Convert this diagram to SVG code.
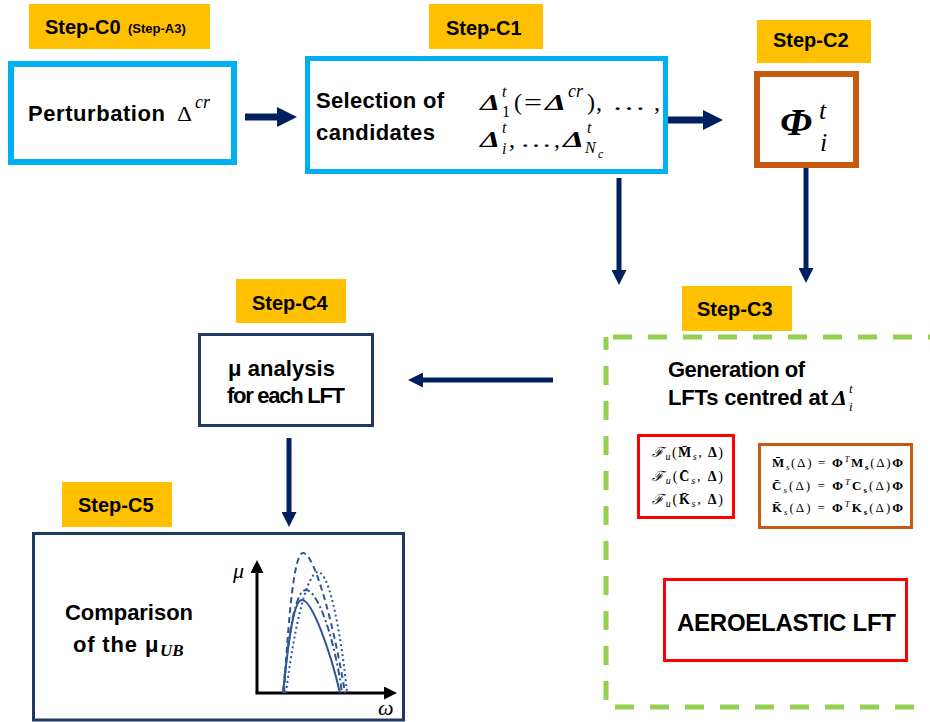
<svg xmlns="http://www.w3.org/2000/svg" width="930" height="722" viewBox="0 0 930 722">
  <style>
    .lbl rect { fill: #FFC000; }
    .lbl text, .t { font-family: "Liberation Sans", Arial, sans-serif; font-weight: bold; fill: #000; }
    .lbl text { font-size: 20px; }
    .t { font-size: 22px; }
    .m { font-family: "Liberation Serif", "Times New Roman", serif; fill: #000; }
    .bi { font-weight: bold; font-style: italic; }
    .it { font-style: italic; }
    .bd { font-weight: bold; }
    .blue { fill: #fff; stroke: #00B0F0; }
    .brown { fill: #fff; stroke: #C55A11; }
    .navy { fill: #fff; stroke: #203864; stroke-width: 3; }
    .red { fill: #fff; stroke: #FF0000; stroke-width: 3; }
    .conn line { stroke: #002060; }
    .curve { fill: none; stroke: #2F5597; stroke-width: 2; }
  </style>
  <defs>
    <marker id="headBig" markerUnits="userSpaceOnUse" markerWidth="20" markerHeight="20" refX="0" refY="10" orient="auto">
      <path d="M0,0 L20,10 L0,20 Z" fill="#002060"/>
    </marker>
    <marker id="headSmall" markerUnits="userSpaceOnUse" markerWidth="15" markerHeight="15" refX="0" refY="7.5" orient="auto">
      <path d="M0,0 L15,7.5 L0,15 Z" fill="#002060"/>
    </marker>
    <marker id="axisHead" markerUnits="userSpaceOnUse" markerWidth="13" markerHeight="13" refX="0" refY="6.5" orient="auto">
      <path d="M0,0 L13,6.5 L0,13 Z" fill="#000"/>
    </marker>
  </defs>

  <!-- step tags -->
  <g class="lbl" id="tag-c0">
    <rect x="29" y="4" width="181" height="45"/>
    <text x="45" y="34">Step-C0</text>
    <text x="128" y="33" style="font-size:13px">(Step-A3)</text>
  </g>
  <g class="lbl" id="tag-c1">
    <rect x="429" y="4" width="114" height="45"/>
    <text x="446" y="35">Step-C1</text>
  </g>
  <g class="lbl" id="tag-c2">
    <rect x="757" y="20" width="114" height="43"/>
    <text x="773" y="47">Step-C2</text>
  </g>
  <g class="lbl" id="tag-c3">
    <rect x="682" y="286" width="110" height="45"/>
    <text x="697" y="316">Step-C3</text>
  </g>
  <g class="lbl" id="tag-c4">
    <rect x="236" y="279" width="110" height="44"/>
    <text x="252" y="310">Step-C4</text>
  </g>
  <g class="lbl" id="tag-c5">
    <rect x="62" y="482" width="110" height="45"/>
    <text x="78" y="512">Step-C5</text>
  </g>

  <!-- Step C0: perturbation -->
  <g id="perturbation">
    <rect class="blue" x="11" y="64" width="223" height="98" stroke-width="6"/>
    <text class="t" x="28" y="121" textLength="137">Perturbation</text>
    <text class="m" x="177" y="121" font-size="21" textLength="15" lengthAdjust="spacingAndGlyphs">Δ</text>
    <text class="m it" x="195" y="108" font-size="18">cr</text>
  </g>

  <!-- Step C1: candidate selection -->
  <g id="candidates">
    <rect class="blue" x="307.5" y="58.5" width="358" height="113" stroke-width="5"/>
    <text class="t" x="316" y="108" textLength="128">Selection of</text>
    <text class="t" x="316" y="140" textLength="119">candidates</text>
    <g class="m" font-size="24">
      <text class="bi" x="480" y="110" textLength="20" lengthAdjust="spacingAndGlyphs">Δ</text>
      <text class="it" x="502" y="97" font-size="16">t</text>
      <text x="502" y="117" font-size="16">1</text>
      <text x="514" y="110">(</text>
      <text x="524" y="110" textLength="18" lengthAdjust="spacingAndGlyphs">=</text>
      <text class="bi" x="545" y="110" textLength="21" lengthAdjust="spacingAndGlyphs">Δ</text>
      <text class="it" x="568" y="97" font-size="18">cr</text>
      <text x="587" y="110">)</text>
      <text x="596" y="110">,</text>
      <text x="612" y="110" textLength="34" lengthAdjust="spacingAndGlyphs">…</text>
      <text x="654" y="110">,</text>
      <text class="bi" x="480" y="147" textLength="20" lengthAdjust="spacingAndGlyphs">Δ</text>
      <text class="it" x="502" y="133" font-size="16">t</text>
      <text class="it" x="502" y="154" font-size="16">i</text>
      <text x="509" y="147">,</text>
      <text x="520" y="147" textLength="32" lengthAdjust="spacingAndGlyphs">…</text>
      <text x="554" y="147">,</text>
      <text class="bi" x="563" y="147" textLength="21" lengthAdjust="spacingAndGlyphs">Δ</text>
      <text class="it" x="587" y="133" font-size="16">t</text>
      <text class="it" x="585" y="153" font-size="16">N</text>
      <text class="it" x="598" y="158" font-size="12">c</text>
    </g>
  </g>

  <!-- Step C2: basis -->
  <g id="basis">
    <rect class="brown" x="757" y="74" width="99" height="91" stroke-width="6"/>
    <text class="m bi" x="780" y="135" font-size="38" textLength="32" lengthAdjust="spacingAndGlyphs">Φ</text>
    <text class="m it" x="819" y="119" font-size="26">t</text>
    <text class="m it" x="820" y="151" font-size="26">i</text>
  </g>

  <!-- Step C3: LFT generation -->
  <g id="lft-generation">
    <rect x="606" y="337" width="340" height="370" fill="none" stroke="#92D050" stroke-width="5" stroke-dasharray="19 16" stroke-dashoffset="28"/>
    <text class="t" x="668" y="377" textLength="137">Generation of</text>
    <text class="t" x="668" y="405" textLength="160">LFTs centred at</text>
    <text class="m bi" x="832" y="405" font-size="21" textLength="15" lengthAdjust="spacingAndGlyphs">Δ</text>
    <text class="m it" x="849" y="393" font-size="13">t</text>
    <text class="m it" x="849" y="411" font-size="13">i</text>
  </g>
  <g id="lft-forms">
    <rect class="red" x="638.5" y="435.5" width="95" height="82"/>
    <g class="m" font-size="14">
      <text x="652" y="457" textLength="71"><tspan class="it" font-family="DejaVu Serif, serif">ℱ</tspan><tspan class="it" font-size="10" dy="3">u</tspan><tspan dy="-3">(</tspan><tspan class="bd">M̄</tspan><tspan class="it" font-size="10" dy="3">s</tspan><tspan dy="-3">, </tspan><tspan class="bd">Δ</tspan>)</text>
      <text x="652" y="481" textLength="71"><tspan class="it" font-family="DejaVu Serif, serif">ℱ</tspan><tspan class="it" font-size="10" dy="3">u</tspan><tspan dy="-3">(</tspan><tspan class="bd">C̄</tspan><tspan class="it" font-size="10" dy="3">s</tspan><tspan dy="-3">, </tspan><tspan class="bd">Δ</tspan>)</text>
      <text x="652" y="504" textLength="71"><tspan class="it" font-family="DejaVu Serif, serif">ℱ</tspan><tspan class="it" font-size="10" dy="3">u</tspan><tspan dy="-3">(</tspan><tspan class="bd">K̄</tspan><tspan class="it" font-size="10" dy="3">s</tspan><tspan dy="-3">, </tspan><tspan class="bd">Δ</tspan>)</text>
    </g>
  </g>
  <g id="projection">
    <rect class="brown" x="759.5" y="444.5" width="152" height="83" stroke-width="3"/>
    <g class="m" font-size="13">
      <text x="772" y="467" textLength="131"><tspan class="bd">M̄</tspan><tspan class="it" font-size="9" dy="3">s</tspan><tspan dy="-3">(Δ) = </tspan><tspan class="bd">Φ</tspan><tspan class="it" font-size="9" dy="-5">T</tspan><tspan class="bd" dy="5">M</tspan><tspan class="bd" font-size="9" dy="3">s</tspan><tspan dy="-3">(Δ)</tspan><tspan class="bd">Φ</tspan></text>
      <text x="772" y="490" textLength="131"><tspan class="bd">C̄</tspan><tspan class="it" font-size="9" dy="3">s</tspan><tspan dy="-3">(Δ) = </tspan><tspan class="bd">Φ</tspan><tspan class="it" font-size="9" dy="-5">T</tspan><tspan class="bd" dy="5">C</tspan><tspan class="bd" font-size="9" dy="3">s</tspan><tspan dy="-3">(Δ)</tspan><tspan class="bd">Φ</tspan></text>
      <text x="772" y="512" textLength="131"><tspan class="bd">K̄</tspan><tspan class="it" font-size="9" dy="3">s</tspan><tspan dy="-3">(Δ) = </tspan><tspan class="bd">Φ</tspan><tspan class="it" font-size="9" dy="-5">T</tspan><tspan class="bd" dy="5">K</tspan><tspan class="bd" font-size="9" dy="3">s</tspan><tspan dy="-3">(Δ)</tspan><tspan class="bd">Φ</tspan></text>
    </g>
  </g>
  <g id="aeroelastic-lft">
    <rect class="red" x="664.5" y="579.5" width="242" height="81"/>
    <text class="t" x="677" y="631" style="font-size:24px" textLength="219">AEROELASTIC LFT</text>
  </g>

  <!-- Step C4: mu analysis -->
  <g id="mu-analysis">
    <rect class="navy" x="199.5" y="334.5" width="173" height="91"/>
    <text class="t" x="228" y="376" textLength="107">μ analysis</text>
    <text class="t" x="227" y="403" textLength="118">for each LFT</text>
  </g>

  <!-- Step C5: comparison of upper bounds -->
  <g id="comparison">
    <rect class="navy" x="33.5" y="533.5" width="370" height="186.5"/>
    <text class="t" x="65" y="620" textLength="128">Comparison</text>
    <text class="t" x="73" y="652" textLength="64">of the</text>
    <text class="t" x="145" y="652">μ</text>
    <text class="m bi" x="160" y="656" font-size="17">UB</text>
    <line x1="257" y1="693" x2="257" y2="573" stroke="#000" stroke-width="3" marker-end="url(#axisHead)"/>
    <line x1="255.5" y1="693" x2="384" y2="693" stroke="#000" stroke-width="3" marker-end="url(#axisHead)"/>
    <text class="m it" x="233" y="578" font-size="22">μ</text>
    <text class="m it" x="378" y="715" font-size="22">ω</text>
    <path class="curve" d="M283,693 C290,625 295,600 302,600 C312,600 330,650 340,693"/>
    <path class="curve" d="M284,693 C290,590 296,553 303,553 C315,553 335,630 345,693" stroke-dasharray="6 4"/>
    <path class="curve" d="M286,693 C295,620 308,572 318,572 C330,572 342,640 347,693" stroke-dasharray="2 3"/>
    <path class="curve" d="M283,693 C290,615 298,590 306,590 C318,590 335,640 342,693" stroke-dasharray="7 3 2 3"/>
  </g>

  <!-- connectors -->
  <g class="conn">
    <line x1="245" y1="117" x2="277" y2="117" stroke-width="7" marker-end="url(#headBig)"/>
    <line x1="668" y1="120" x2="703" y2="120" stroke-width="7" marker-end="url(#headBig)"/>
    <line x1="619" y1="178" x2="619" y2="270" stroke-width="5" marker-end="url(#headSmall)"/>
    <line x1="806" y1="168" x2="806" y2="268" stroke-width="5" marker-end="url(#headSmall)"/>
    <line x1="553" y1="380" x2="423" y2="380" stroke-width="5" marker-end="url(#headSmall)"/>
    <line x1="289" y1="438" x2="289" y2="512" stroke-width="5" marker-end="url(#headSmall)"/>
  </g>
</svg>
